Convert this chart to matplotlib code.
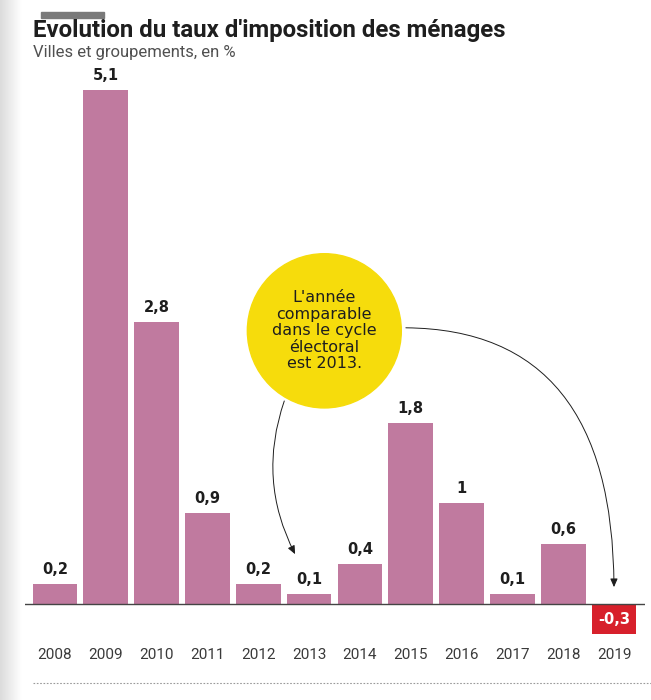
"""Evolution du taux d'imposition des ménages - bar chart with annotation bubble."""
import numpy as np
import matplotlib
matplotlib.use("Agg")
import matplotlib.pyplot as plt
from matplotlib.patches import Ellipse, Rectangle, FancyArrowPatch
from matplotlib.lines import Line2D

years = ["2008", "2009", "2010", "2011", "2012", "2013",
         "2014", "2015", "2016", "2017", "2018", "2019"]
values = [0.2, 5.1, 2.8, 0.9, 0.2, 0.1, 0.4, 1.8, 1.0, 0.1, 0.6, -0.3]
labels = ["0,2", "5,1", "2,8", "0,9", "0,2", "0,1",
          "0,4", "1,8", "1", "0,1", "0,6", "-0,3"]

PINK = "#c07a9f"
RED = "#d7202b"
YELLOW = "#f6dc0c"
DARK = "#1e1e1e"

W, H = 651, 700
fig = plt.figure(figsize=(W / 100, H / 100), dpi=100)
fig.patch.set_facecolor("white")

# light gray strip on the left edge
strip = fig.add_axes([0, 0, 22 / W, 1])
grad = np.linspace(0.86, 1.0, 50).reshape(1, -1)
strip.imshow(grad, aspect="auto", cmap="gray", vmin=0, vmax=1)
strip.axis("off")
fig.patches.append(Rectangle((41 / W, 1 - 18 / H), 63 / W, 6 / H,
                             transform=fig.transFigure, color="#7a7a7a"))

fig.text(33 / W, 1 - 30 / H, "Evolution du taux d'imposition des ménages",
         fontsize=17.3, fontweight="bold", family="Roboto", color=DARK, va="center")
fig.text(33 / W, 1 - 52 / H, "Villes et groupements, en %",
         fontsize=12, family="Roboto", color="#505050", va="center")

# axes: 50.8 px per bar, 100.8 px per unit
ax = fig.add_axes([25 / W, 60 / H, 620 / W, 560 / H])
x = np.arange(len(years))
colors = [PINK if v >= 0 else RED for v in values]
ax.bar(x, values, width=0.88, color=colors)
ax.set_xlim(-0.59, 11.61)
ax.set_ylim(-0.357, 5.198)
ax.axhline(0, color="#444444", lw=1)
for s in ax.spines.values():
    s.set_visible(False)
ax.set_yticks([])
ax.set_xticks(x)
ax.set_xticklabels(years, fontsize=11, family="Roboto", color="#3a3a3a")
ax.tick_params(axis="x", length=0, pad=6)

for xi, v, lab in zip(x, values, labels):
    if v >= 0:
        ax.annotate(lab, (xi, v), xytext=(0, 5), textcoords="offset points",
                    ha="center", va="bottom", fontsize=10.5, fontweight="bold",
                    family="DejaVu Sans", color=DARK)
    else:
        ax.text(xi, v / 2, lab, ha="center", va="center", fontsize=10.5,
                fontweight="bold", family="DejaVu Sans", color="white")

# yellow bubble
cx, cy = 5.3, 2.71
ax.add_patch(Ellipse((cx, cy), 3.03, 1.53, color=YELLOW, clip_on=False, zorder=3))
ax.text(cx, cy, "L'année\ncomparable\ndans le cycle\nélectoral\nest 2013.",
        ha="center", va="center", fontsize=11.5, family="DejaVu Sans", color=DARK,
        linespacing=1.12, zorder=4)

arrow_kw = dict(arrowstyle="-|>,head_length=0.5,head_width=0.22", mutation_scale=10,
                color=DARK, lw=0.7, clip_on=False, zorder=4)
ax.add_patch(FancyArrowPatch((4.53, 2.04), (4.75, values[5] + 0.37),
                             connectionstyle="arc3,rad=0.22", **arrow_kw))
ax.add_patch(FancyArrowPatch((6.85, 2.74), (11.0, 0.14),
                             connectionstyle="angle3,angleA=0,angleB=-90", **arrow_kw))

fig.add_artist(Line2D([33 / W, 1], [1 - 683 / H, 1 - 683 / H], transform=fig.transFigure,
                      color="#9a9a9a", lw=0.8, linestyle=(0, (1.5, 1.5))))

fig.savefig("out.png", dpi=100)
